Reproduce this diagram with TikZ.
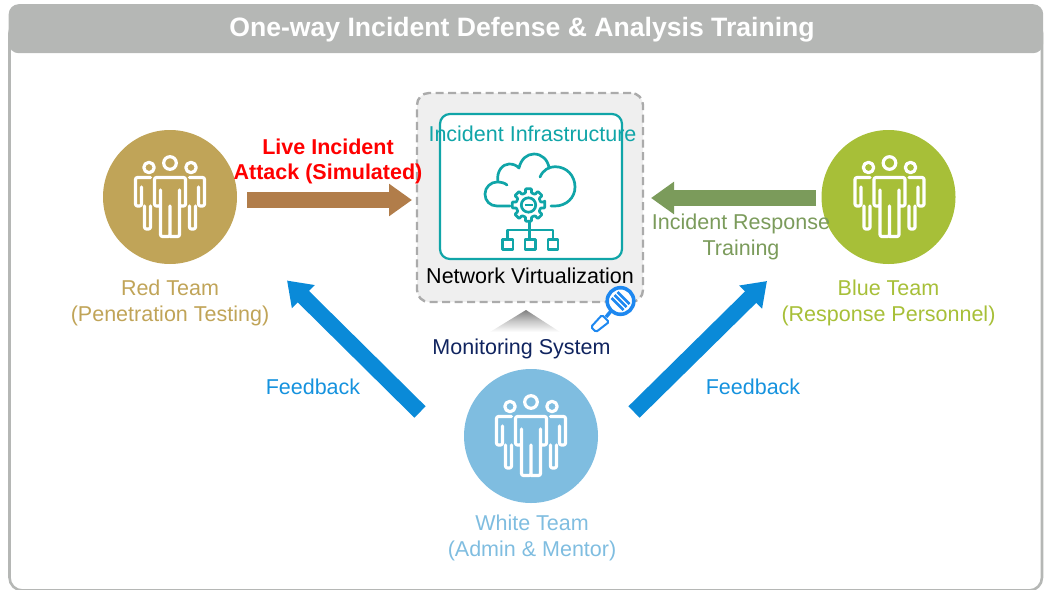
\documentclass[tikz,border=0pt]{standalone}
\usepackage{fontspec}
\setmainfont{Liberation Sans}
\usetikzlibrary{arrows.meta,shadings,calc}
\definecolor{barg}{HTML}{B5B7B5}
\definecolor{redt}{HTML}{C0A458}
\definecolor{bluet}{HTML}{A7BF38}
\definecolor{whitet}{HTML}{7FBDE0}
\definecolor{brownar}{HTML}{B17D4A}
\definecolor{greenar}{HTML}{7B9B5B}
\definecolor{bluear}{HTML}{0A8AD8}
\definecolor{fbtext}{HTML}{1592DE}
\definecolor{teal1}{HTML}{10A5A8}
\definecolor{navy1}{HTML}{10245F}
\definecolor{dashg}{HTML}{ABABAB}
\definecolor{panel}{HTML}{EFEFEF}
\definecolor{mag}{HTML}{1E88F0}
\tikzset{
  x=1pt,y=-1pt,
  lbl/.style={font=\fontsize{21.5}{26}\selectfont,align=center,inner sep=0pt},
  teamdisc/.style={circle,minimum size=134pt,inner sep=0pt,draw=none},
  blockarrow/.style={line width=16pt,-{Triangle[width=31pt,length=23pt]},draw=#1},
  icon/.style={draw=white,line width=3.2pt,line join=round,line cap=round},
  cicon/.style={draw=teal1,line width=2.7pt,line join=round,line cap=round},
  team/.pic={
    \draw[icon] (0,-34) circle[radius=6.3];
    \draw[icon] (-21,-29.5) circle[radius=5.2];
    \draw[icon] (21,-29.5) circle[radius=5.2];
    \draw[icon,rounded corners=2pt] (-9.5,-7) -- (-9.5,39.5) -- (0,39.5) -- (0,9) (0,39.5) -- (9.5,39.5) -- (9.5,-7)
      (9.5,-7) -- (9.5,9) -- (15.5,9) -- (15.5,-19.5) -- (-15.5,-19.5) -- (-15.5,9) -- (-9.5,9) -- (-9.5,-7);
    \draw[icon,rounded corners=2pt] (-19.5,-19.5) -- (-34.5,-19.5) -- (-34.5,9) -- (-28.5,9) -- (-28.5,-10);
    \draw[icon,rounded corners=2pt] (-25.5,9) -- (-25.5,32) -- (-19.5,32) -- (-19.5,9);
    \draw[icon,rounded corners=2pt] (19.5,-19.5) -- (34.5,-19.5) -- (34.5,9) -- (28.5,9) -- (28.5,-10);
    \draw[icon,rounded corners=2pt] (25.5,9) -- (25.5,32) -- (19.5,32) -- (19.5,9);
  }
}
\begin{document}
\begin{tikzpicture}
\useasboundingbox (0,0) rectangle (1048,589);
% frame
\begin{scope}
\clip (0,0) rectangle (1048,589);
\draw[barg,line width=2.6pt,rounded corners=13pt] (9.5,20) rectangle (1042,590.5);
\end{scope}
\node[draw=none,fill=barg,rounded corners=10pt,minimum width=1034.5pt,minimum height=49pt,inner sep=0pt,anchor=north west] (bar) at (8.5,4) {};
\node[text=white,font=\bfseries\fontsize{26.6}{30}\selectfont,inner sep=0pt] (title) at (522,29.5) {One-way Incident Defense \& Analysis Training};
% discs
\node[teamdisc,fill=redt] (red) at (170,197) {};
\node[teamdisc,fill=bluet] (blue) at (888.5,197) {};
\node[teamdisc,fill=whitet] (white) at (531,436) {};
\pic at (red) {team};
\pic at ([xshift=1pt]blue.center) {team};
\pic at (white) {team};
% labels
\node[lbl,text=redt] (redl) at (170,303) {Red Team\\(Penetration Testing)};
\node[lbl,text=bluet] (bluel) at (888.5,303) {Blue Team\\(Response Personnel)};
\node[lbl,text=whitet] (whitel) at (532,538) {White Team\hspace{5pt}\\(Admin \& Mentor)};
% central panel
\node[draw=dashg,fill=panel,dash pattern=on 8pt off 4.5pt,line width=2.4pt,rounded corners=12pt,minimum width=226pt,minimum height=209pt,inner sep=0pt] (panel) at (530,197.5) {};
\node[draw=teal1,fill=white,line width=2.2pt,rounded corners=10pt,minimum width=182pt,minimum height=145pt,inner sep=0pt] (infra) at (531,186.5) {};
\node[lbl,text=teal1] (infral) at (532.5,134) {Incident Infrastructure};
\node[lbl,text=black] (netl) at (530,276) {Network Virtualization};
% cloud
\draw[cicon] (510,206) -- (497,206) .. controls (490,206) and (485,201) .. (485,194)
  .. controls (485,187) and (491,182) .. (497,182) .. controls (501,182) and (505,183) .. (507,185);
\draw[cicon] (498,182) .. controls (496,171) and (503,164) .. (509,164)
  .. controls (513,164) and (516,165) .. (519,168)
  .. controls (521,159) and (527,154) .. (534,154)
  .. controls (542,154) and (548,160) .. (549,168);
\draw[cicon] (540,177) .. controls (543,170) and (549,166.7) .. (555,166.7)
  .. controls (567,166.7) and (575,176) .. (575,187)
  .. controls (575,198) and (566,206) .. (555,206) -- (551,206);
% gear
\coordinate (g) at (528.5,205);
\draw[cicon,fill=white,rounded corners=0.8pt] ($(g)+(-11:16.5)$)
  \foreach \a in {0,45,...,315}{
    -- ($(g)+(\a-11:16.5)$) -- ($(g)+(\a+11:16.5)$) -- ($(g)+(\a+13:12.5)$) -- ($(g)+(\a+32:12.5)$)
  } -- cycle;
\draw[cicon] (g) circle[radius=7.2];
\draw[teal1,line width=2.4pt] ($(g)+(-4,0)$) -- ($(g)+(4,0)$);
% tree
\draw[cicon,line cap=butt] (529.5,222) -- (529.5,238) (507.5,239) -- (507.5,230) -- (553,230) -- (553,239);
\draw[cicon] (502.5,239.5) rectangle (513,249.5);
\draw[cicon] (525,239.5) rectangle (535.5,249.5);
\draw[cicon] (548,239.5) rectangle (558,249.5);
% monitor
\shade[top color=black!50,bottom color=white,middle color=black!22] (526,310) -- (490,332) -- (560,332) -- cycle;
\node[lbl,text=navy1] (mon) at (521.5,348.5) {Monitoring System};
% magnifier
\coordinate (mc) at (620.5,301);
\draw[mag,line width=2pt,rounded corners=1.5pt,fill=white] (602,315) -- (609,322) -- (596,332) -- (591,327) -- cycle;
\draw[mag,line width=3.5pt] (606,317) -- (611,311);
\draw[mag,line width=3.6pt,fill=white] (mc) circle[radius=13.3];
\draw[mag,line width=2.6pt] ($(mc)+(-3,-9)$) -- ($(mc)+(9,3)$);
\draw[mag,line width=2.6pt] ($(mc)+(-6,-6)$) -- ($(mc)+(6,6)$);
\draw[mag,line width=2.6pt] ($(mc)+(-9,-3)$) -- ($(mc)+(3,9)$);
% arrows
\coordinate (a1s) at (247,200); \coordinate (a1e) at (412,200);
\coordinate (a2s) at (816,198); \coordinate (a2e) at (651,198);
\coordinate (a3s) at (420,412); \coordinate (a3e) at (287,280.5);
\coordinate (a4s) at (634,412); \coordinate (a4e) at (767,281);
\draw[blockarrow=brownar] (a1s) -- (a1e);
\draw[blockarrow=greenar] (a2s) -- (a2e);
\draw[blockarrow=bluear] (a3s) -- (a3e);
\draw[blockarrow=bluear] (a4s) -- (a4e);
\node[lbl,text=red,font=\bfseries\fontsize{21.5}{25}\selectfont] (att) at (328,161.5) {Live Incident\hspace{4pt}\\Attack (Simulated)};
\node[lbl,text=greenar] (resp) at (741,237) {Incident Response\\Training};
\node[lbl,text=fbtext] (fb1) at (313,386.5) {Feedback};
\node[lbl,text=fbtext] (fb2) at (753,386.5) {Feedback};
\end{tikzpicture}
\end{document}
